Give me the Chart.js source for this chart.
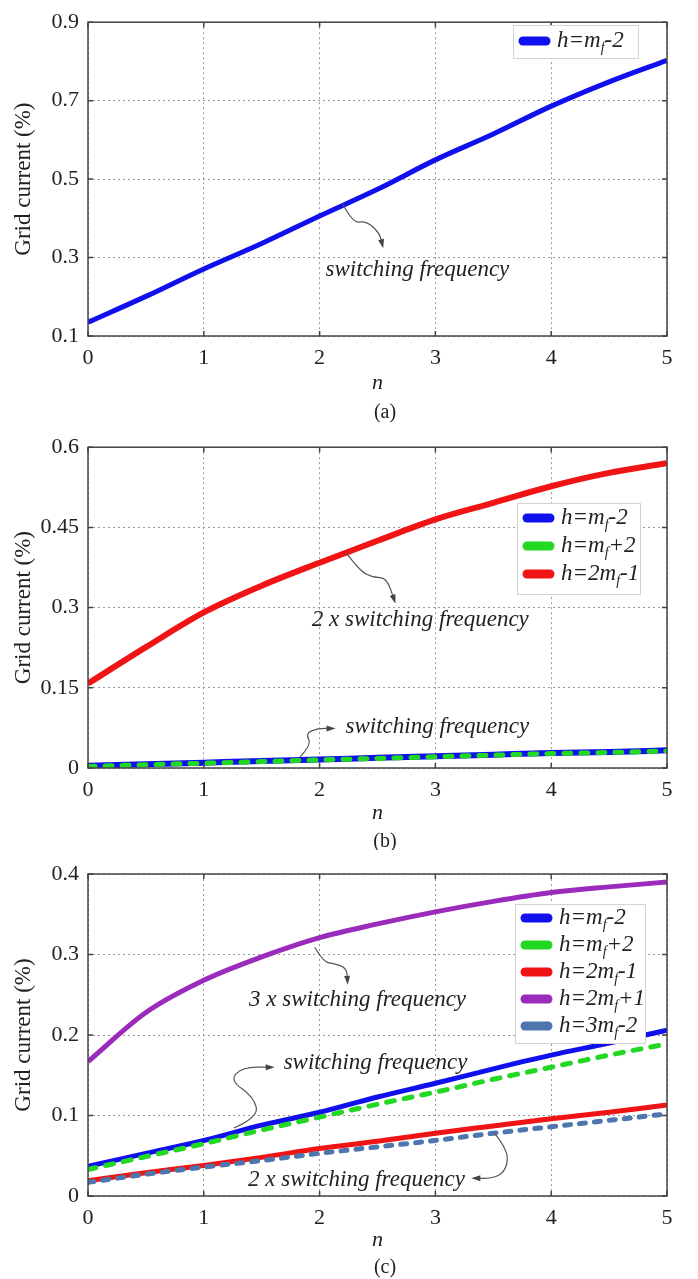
<!DOCTYPE html>
<html lang="en">
<head>
<meta charset="UTF-8">
<title>Grid current harmonics vs n</title>
<style>
  body { margin: 0; background: #fff; }
  canvas { position: absolute; left: 0; }
</style>
</head>
<body>
<canvas id="chartA" width="698" height="425" style="top:0px"></canvas>
<canvas id="chartB" width="698" height="425" style="top:425px"></canvas>
<canvas id="chartC" width="698" height="429" style="top:850px"></canvas>
<script src="https://cdn.jsdelivr.net/npm/chart.js"></script>
<script>
// n values shared by all curves
var nValues = [0, 0.5, 1, 1.5, 2, 2.5, 3, 3.5, 4, 4.5, 5];
var xTicks = [0, 1, 2, 3, 4, 5];
var xLabels = ['0', '1', '2', '3', '4', '5'];

// (a)
var aMfMinus2 = [0.135, 0.201, 0.271, 0.336, 0.406, 0.474, 0.549, 0.615, 0.686, 0.748, 0.803];
var aYTicks = [0.1, 0.3, 0.5, 0.7, 0.9];
var aYLabels = ['0.1', '0.3', '0.5', '0.7', '0.9'];

// (b)
var bMfMinus2 = [0.004, 0.007, 0.010, 0.013, 0.016, 0.019, 0.022, 0.025, 0.028, 0.030, 0.033];
var bMfPlus2 = [0.003, 0.006, 0.009, 0.012, 0.015, 0.018, 0.021, 0.024, 0.027, 0.029, 0.032];
var b2MfMinus1 = [0.158, 0.226, 0.291, 0.341, 0.384, 0.425, 0.465, 0.496, 0.527, 0.552, 0.570];
var bYTicks = [0, 0.15, 0.3, 0.45, 0.6];
var bYLabels = ['0', '0.15', '0.3', '0.45', '0.6'];

// (c)
var cMfMinus2 = [0.037, 0.053, 0.069, 0.088, 0.104, 0.123, 0.140, 0.158, 0.175, 0.190, 0.206];
var cMfPlus2 = [0.033, 0.049, 0.065, 0.082, 0.098, 0.114, 0.129, 0.145, 0.160, 0.175, 0.189];
var c2MfMinus1 = [0.019, 0.029, 0.038, 0.048, 0.059, 0.068, 0.078, 0.087, 0.096, 0.104, 0.113];
var c2MfPlus1 = [0.167, 0.228, 0.268, 0.297, 0.321, 0.338, 0.353, 0.366, 0.377, 0.384, 0.390];
var c3MfMinus2 = [0.017, 0.027, 0.036, 0.044, 0.053, 0.061, 0.069, 0.078, 0.086, 0.094, 0.102];
var cYTicks = [0, 0.1, 0.2, 0.3, 0.4];
var cYLabels = ['0', '0.1', '0.2', '0.3', '0.4'];

var BLUE = '#1010ee', GREEN = '#22d822', RED = '#f01414', PURPLE = '#9b2cbb', STEEL = '#4d76ae';
var SERIF = '"Liberation Serif", "Times New Roman", serif';

// legend boxes, captions and the arrow notes (note points are in n / value units)
var extras = {
  chartA: {
    caption: '(a)', captionY: 413,
    legend: { x: 513, y: 25, w: 125, h: 33, first: 16, gap: 28 },
    notes: [
      { pts: [[2.198, 0.438], [2.284, 0.388], [2.405, 0.393], [2.517, 0.363], [2.543, 0.331]],
        text: 'switching frequency', at: [2.845, 0.269] }
    ]
  },
  chartB: {
    caption: '(b)', captionY: 417,
    legend: { x: 517, y: 78, w: 123, h: 91, first: 15, gap: 28 },
    notes: [
      { pts: [[2.233, 0.402], [2.345, 0.369], [2.466, 0.356], [2.578, 0.356], [2.647, 0.313]],
        text: '2 x switching frequency', at: [2.87, 0.276] },
      { pts: [[1.828, 0.020], [1.931, 0.043], [1.879, 0.065], [1.983, 0.074], [2.112, 0.074]],
        text: 'switching frequency', at: [3.017, 0.076] }
    ]
  },
  chartC: {
    caption: '(c)', captionY: 418,
    legend: { x: 515, y: 54, w: 130, h: 139, first: 14, gap: 27 },
    notes: [
      { pts: [[1.957, 0.309], [2.034, 0.291], [2.112, 0.289], [2.233, 0.284], [2.241, 0.266]],
        text: '3 x switching frequency', at: [2.328, 0.243] },
      { pts: [[1.259, 0.0845], [1.474, 0.098], [1.431, 0.123], [1.224, 0.144], [1.336, 0.160], [1.586, 0.160]],
        text: 'switching frequency', at: [2.483, 0.165] },
      { pts: [[3.509, 0.078], [3.629, 0.057], [3.612, 0.032], [3.509, 0.022], [3.336, 0.022]],
        text: '2 x switching frequency', at: [2.319, 0.020] }
    ]
  }
};

function drawLabel(ctx, label, x, y, size) {
  // text after '_' : first char is a subscript
  var parts = label.split('_');
  ctx.font = 'italic ' + size + 'px ' + SERIF;
  ctx.fillText(parts[0], x, y);
  x += ctx.measureText(parts[0]).width;
  if (parts.length > 1) {
    var sub = parts[1].charAt(0), rest = parts[1].slice(1);
    ctx.font = 'italic ' + Math.round(size * 0.62) + 'px ' + SERIF;
    ctx.fillText(sub, x, y + size * 0.3);
    x += ctx.measureText(sub).width;
    ctx.font = 'italic ' + size + 'px ' + SERIF;
    ctx.fillText(rest, x, y);
  }
}

var framePlugin = {
  id: 'frame',
  afterDraw: function (chart) {
    var ctx = chart.ctx, a = chart.chartArea, ex = extras[chart.canvas.id];
    var xs = chart.scales.x, ys = chart.scales.y;
    ctx.save();

    // box + inward ticks
    ctx.strokeStyle = '#444';
    ctx.lineWidth = 1.5;
    ctx.strokeRect(a.left, a.top, a.right - a.left, a.bottom - a.top);
    ctx.beginPath();
    xs.ticks.forEach(function (t) {
      var px = xs.getPixelForValue(t.value);
      ctx.moveTo(px, a.bottom); ctx.lineTo(px, a.bottom - 5);
      ctx.moveTo(px, a.top); ctx.lineTo(px, a.top + 5);
    });
    ys.ticks.forEach(function (t) {
      var py = ys.getPixelForValue(t.value);
      ctx.moveTo(a.left, py); ctx.lineTo(a.left + 5, py);
      ctx.moveTo(a.right, py); ctx.lineTo(a.right - 5, py);
    });
    ctx.stroke();

    // notes with squiggly arrows
    ctx.strokeStyle = '#555';
    ctx.fillStyle = '#444';
    ctx.lineWidth = 1.2;
    ex.notes.forEach(function (nt) {
      var p = nt.pts.map(function (q) { return [xs.getPixelForValue(q[0]), ys.getPixelForValue(q[1])]; });
      ctx.beginPath();
      ctx.moveTo(p[0][0], p[0][1]);
      for (var i = 1; i < p.length - 1; i++) {
        var mx = (p[i][0] + p[i + 1][0]) / 2, my = (p[i][1] + p[i + 1][1]) / 2;
        ctx.quadraticCurveTo(p[i][0], p[i][1], mx, my);
      }
      var e = p[p.length - 1], s = p[p.length - 2];
      ctx.lineTo(e[0], e[1]);
      ctx.stroke();
      var ang = Math.atan2(e[1] - s[1], e[0] - s[0]);
      ctx.beginPath();
      ctx.moveTo(e[0] + 3 * Math.cos(ang), e[1] + 3 * Math.sin(ang));
      ctx.lineTo(e[0] - 6 * Math.cos(ang) - 3 * Math.sin(ang), e[1] - 6 * Math.sin(ang) + 3 * Math.cos(ang));
      ctx.lineTo(e[0] - 6 * Math.cos(ang) + 3 * Math.sin(ang), e[1] - 6 * Math.sin(ang) - 3 * Math.cos(ang));
      ctx.closePath();
      ctx.fill();

      ctx.save();
      ctx.fillStyle = '#222';
      ctx.font = 'italic 23px ' + SERIF;
      ctx.textAlign = 'center';
      ctx.textBaseline = 'middle';
      ctx.fillText(nt.text, xs.getPixelForValue(nt.at[0]), ys.getPixelForValue(nt.at[1]));
      ctx.restore();
    });

    // legend
    var lg = ex.legend;
    ctx.fillStyle = '#fff';
    ctx.fillRect(lg.x, lg.y, lg.w, lg.h);
    ctx.strokeStyle = '#d4d4d4';
    ctx.lineWidth = 1;
    ctx.strokeRect(lg.x + 0.5, lg.y + 0.5, lg.w, lg.h);
    chart.data.datasets.forEach(function (ds, i) {
      var ry = lg.y + lg.first + i * lg.gap;
      ctx.strokeStyle = ds.borderColor;
      ctx.lineWidth = 9;
      ctx.lineCap = 'round';
      ctx.beginPath();
      ctx.moveTo(lg.x + 10, ry);
      ctx.lineTo(lg.x + 33, ry);
      ctx.stroke();
      ctx.fillStyle = '#222';
      ctx.textBaseline = 'middle';
      ctx.textAlign = 'left';
      drawLabel(ctx, ds.label, lg.x + 44, ry, 23);
    });

    // caption under the axis
    ctx.fillStyle = '#222';
    ctx.font = '20px ' + SERIF;
    ctx.textAlign = 'center';
    ctx.textBaseline = 'middle';
    ctx.fillText(ex.caption, 385, ex.captionY);
    ctx.restore();
  }
};

function series(label, values, color, width, dash, order) {
  return {
    label: label,
    data: nValues.map(function (n, i) { return { x: n, y: values[i] }; }),
    borderColor: color,
    backgroundColor: color,
    borderWidth: width,
    borderDash: dash || [],
    borderCapStyle: dash ? 'round' : 'butt',
    pointRadius: 0,
    cubicInterpolationMode: 'monotone',
    fill: false,
    order: order || 0
  };
}

function makeChart(id, datasets, yTicks, yLabels, padTop, xHeight, titlePad) {
  new Chart(document.getElementById(id), {
    type: 'line',
    data: { datasets: datasets },
    plugins: [framePlugin],
    options: {
      responsive: false,
      animation: false,
      layout: { padding: { top: padTop, right: 31, left: 0, bottom: 0 } },
      plugins: { legend: { display: false }, tooltip: { enabled: false } },
      scales: {
        x: {
          type: 'linear', min: 0, max: 5,
          afterBuildTicks: function (s) { s.ticks = xTicks.map(function (v) { return { value: v }; }); },
          afterFit: function (s) { s.height = xHeight; },
          grid: { color: '#999', lineWidth: 1, drawTicks: false },
          border: { display: false, dash: [2, 3] },
          ticks: {
            padding: 9, maxRotation: 0, color: '#222',
            font: { family: SERIF, size: 22 },
            callback: function (v) { return xLabels[xTicks.indexOf(v)]; }
          },
          title: {
            display: true, text: 'n', color: '#222',
            font: { family: SERIF, size: 22, style: 'italic' },
            padding: { top: 0, bottom: titlePad }
          }
        },
        y: {
          type: 'linear', min: yTicks[0], max: yTicks[yTicks.length - 1],
          afterBuildTicks: function (s) { s.ticks = yTicks.map(function (v) { return { value: v }; }); },
          afterFit: function (s) { s.width = 88; },
          grid: { color: '#999', lineWidth: 1, drawTicks: false },
          border: { display: false, dash: [2, 3] },
          ticks: {
            padding: 9, color: '#222',
            font: { family: SERIF, size: 22 },
            callback: function (v) { return yLabels[yTicks.indexOf(v)]; }
          },
          title: {
            display: true, text: 'Grid current (%)', color: '#222',
            font: { family: SERIF, size: 23 },
            padding: { top: 10, bottom: 0 }
          }
        }
      }
    }
  });
}

makeChart('chartA', [
  series('h=m_f-2', aMfMinus2, BLUE, 5)
], aYTicks, aYLabels, 13, 89, 29);

makeChart('chartB', [
  series('h=m_f-2', bMfMinus2, BLUE, 6, null, 2),
  series('h=m_f+2', bMfPlus2, GREEN, 5, [7, 10], 1),
  series('h=2m_f-1', b2MfMinus1, RED, 6, null, 0)
], bYTicks, bYLabels, 21, 82, 24);

makeChart('chartC', [
  series('h=m_f-2', cMfMinus2, BLUE, 5, null, 2),
  series('h=m_f+2', cMfPlus2, GREEN, 5, [8, 10], 1),
  series('h=2m_f-1', c2MfMinus1, RED, 5, null, 4),
  series('h=2m_f+1', c2MfPlus1, PURPLE, 5, null, 0),
  series('h=3m_f-2', c3MfMinus2, STEEL, 5, [6, 9], 3)
], cYTicks, cYLabels, 24, 83, 26);
</script>
</body>
</html>
